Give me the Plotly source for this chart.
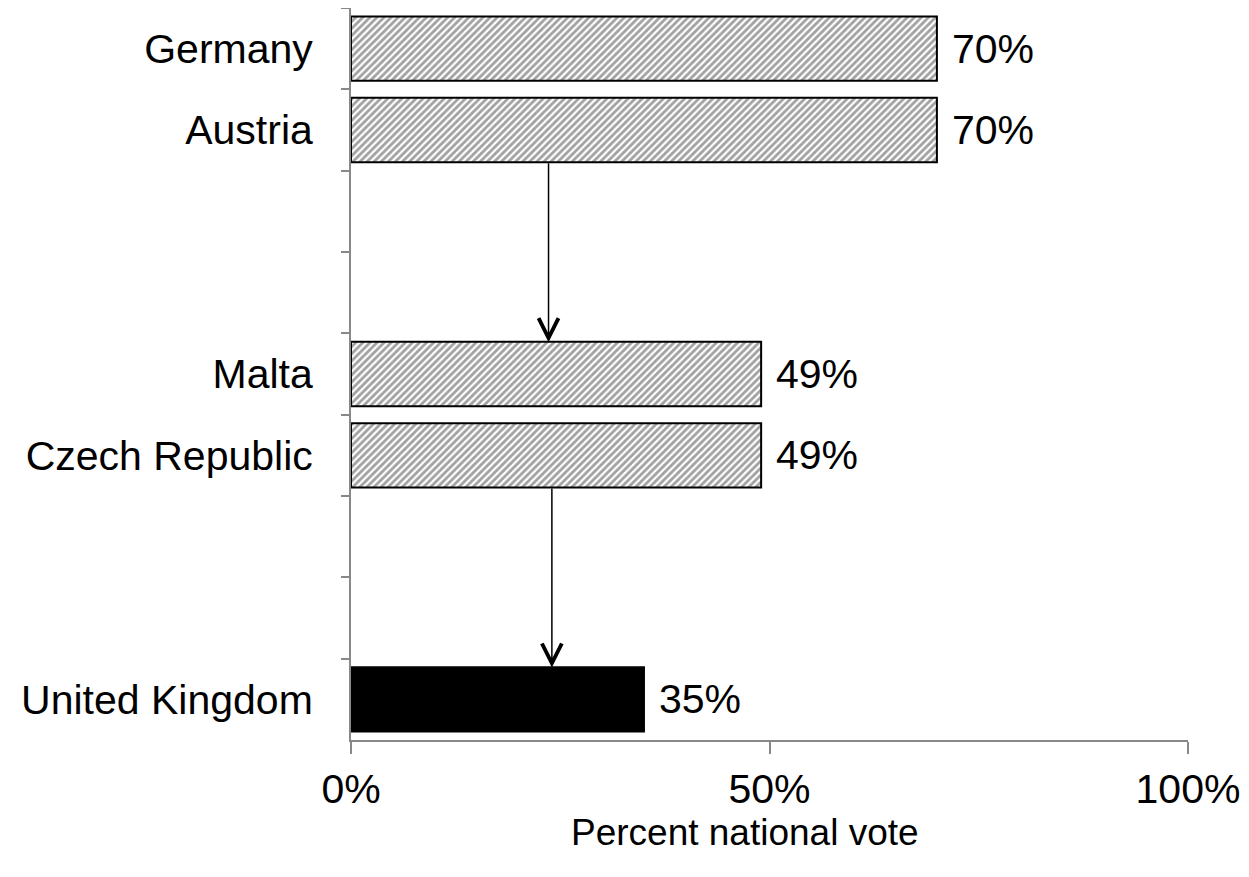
import plotly.graph_objects as go

countries = ["Germany", "Austria", " ", "  ", "Malta", "Czech Republic", "   ", "    ", "United Kingdom"]
vote_share = [0.70, 0.70, None, None, 0.49, 0.49, None, None, 0.35]
bar_labels = ["70%", "70%", "", "", "49%", "49%", "", "", "35%"]
fill_colors = ["white", "white", "white", "white", "white", "white", "white", "white", "black"]
hatch = ["/", "/", "", "", "/", "/", "", "", ""]

# arrows: (from country, to country, x position)
arrows = [("Austria", "Malta", 0.236), ("Czech Republic", "United Kingdom", 0.24)]

font = "Liberation Sans, Arial, sans-serif"
axis_grey = "#888888"

fig = go.Figure(go.Bar(
    x=vote_share, y=countries, orientation="h",
    marker=dict(color=fill_colors, line=dict(color="black", width=2),
                pattern=dict(shape=hatch, fgcolor="black", size=5, solidity=0.55)),
))

# value labels to the right of each bar
for c, v, lab in zip(countries, vote_share, bar_labels):
    if v is None:
        continue
    fig.add_annotation(x=v, y=c, text=lab, showarrow=False, xanchor="left",
                       xshift=13, font=dict(size=41, color="black", family=font))

half_bar = 0.39
for src, dst, xpos in arrows:
    i0 = countries.index(src)
    i1 = countries.index(dst)
    fig.add_annotation(x=xpos, y=i1 - half_bar, ax=xpos, ay=i0 + half_bar,
                       xref="x", yref="y", axref="x", ayref="y",
                       showarrow=True, arrowhead=5, arrowsize=2.6, arrowwidth=1.5,
                       arrowcolor="black", standoff=0, text="")

fig.add_annotation(text="Percent national vote", xref="paper", yref="paper",
                   x=(745 - 351) / 837, y=-0.126, showarrow=False,
                   xanchor="center", yanchor="middle",
                   font=dict(size=37, color="black", family=font))

fig.update_layout(
    width=1241, height=869, template="simple_white",
    margin=dict(l=343, r=61, t=0, b=137),
    showlegend=False, bargap=0.21,
    paper_bgcolor="white", plot_bgcolor="white",
    font=dict(family=font, color="black"),
)
fig.update_xaxes(range=[0, 1], tickvals=[0, 0.5, 1], tickformat=".0%",
                 showline=True, linecolor=axis_grey, linewidth=2,
                 ticks="outside", ticklen=12, tickwidth=2, tickcolor=axis_grey,
                 tickfont=dict(size=41, color="black", family=font),
                 showgrid=False, zeroline=False)
fig.update_yaxes(type="category", categoryorder="array", categoryarray=countries,
                 autorange="reversed", tickson="boundaries",
                 showline=True, linecolor=axis_grey, linewidth=2,
                 ticks="outside", ticklen=8, tickwidth=2, tickcolor=axis_grey,
                 ticklabelstandoff=28,
                 tickfont=dict(size=41, color="black", family=font),
                 showgrid=False)

fig.write_html("out.html")
